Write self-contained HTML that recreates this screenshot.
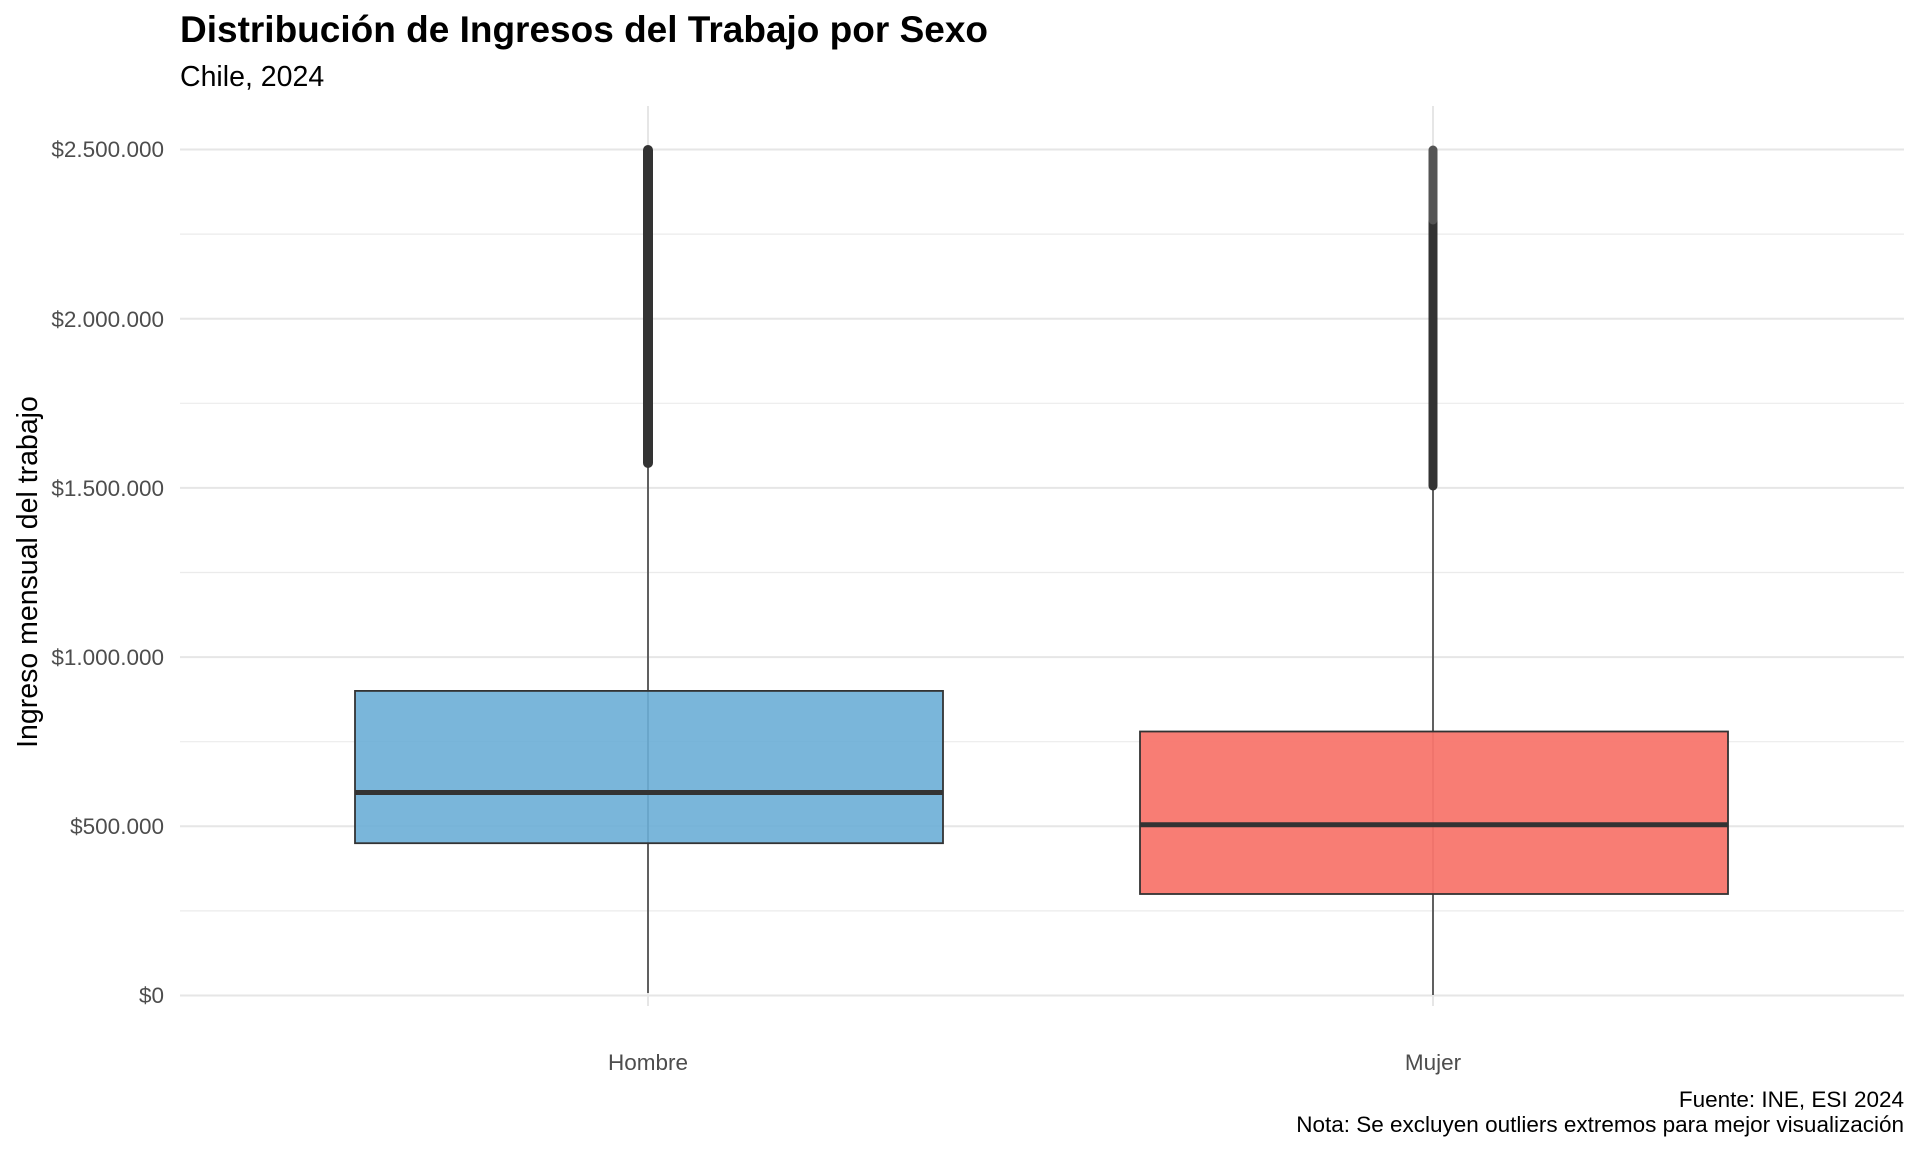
<!DOCTYPE html>
<html><head><meta charset="utf-8"><style>
body{margin:0;background:#fff}
svg{display:block}
text{font-family:"Liberation Sans",sans-serif}
</style></head><body>
<svg width="1920" height="1152" viewBox="0 0 1920 1152">
<rect width="1920" height="1152" fill="#fff"/>
<text x="180" y="42" font-size="37" font-weight="bold" fill="#000">Distribución de Ingresos del Trabajo por Sexo</text>
<text x="180" y="86" font-size="28.5" fill="#000">Chile, 2024</text>
<g stroke="#ebebeb" stroke-width="1.2">
<line x1="180" x2="1904" y1="910.9" y2="910.9"/>
<line x1="180" x2="1904" y1="741.7" y2="741.7"/>
<line x1="180" x2="1904" y1="572.5" y2="572.5"/>
<line x1="180" x2="1904" y1="403.3" y2="403.3"/>
<line x1="180" x2="1904" y1="234.1" y2="234.1"/>
</g>
<g stroke="#e6e6e6" stroke-width="2">
<line x1="180" x2="1904" y1="995.5" y2="995.5"/>
<line x1="180" x2="1904" y1="826.3" y2="826.3"/>
<line x1="180" x2="1904" y1="657.1" y2="657.1"/>
<line x1="180" x2="1904" y1="487.9" y2="487.9"/>
<line x1="180" x2="1904" y1="318.7" y2="318.7"/>
<line x1="180" x2="1904" y1="149.5" y2="149.5"/>
<line x1="648" x2="648" y1="106" y2="1006"/>
<line x1="1433" x2="1433" y1="106" y2="1006"/>
</g>
<g font-size="22.5" fill="#4d4d4d" text-anchor="end">
<text x="164" y="1003">$0</text>
<text x="164" y="834">$500.000</text>
<text x="164" y="665">$1.000.000</text>
<text x="164" y="496">$1.500.000</text>
<text x="164" y="327">$2.000.000</text>
<text x="164" y="157">$2.500.000</text>
</g>
<g font-size="22.5" fill="#4d4d4d" text-anchor="middle">
<text x="648" y="1070">Hombre</text>
<text x="1433" y="1070">Mujer</text>
</g>
<text transform="translate(37,572) rotate(-90)" font-size="28.5" fill="#000" text-anchor="middle">Ingreso mensual del trabajo</text>
<line x1="648" x2="648" y1="993" y2="464" stroke="#333" stroke-width="1.5"/>
<rect x="355" y="690.9" width="588" height="152.3" fill="#6baed6" fill-opacity="0.9" stroke="#333" stroke-width="1.8"/>
<line x1="355" x2="943" y1="792.5" y2="792.5" stroke="#333" stroke-width="5"/>
<line x1="648" x2="648" y1="150" y2="463" stroke="#333" stroke-width="10" stroke-linecap="round"/>
<line x1="1433" x2="1433" y1="995" y2="487" stroke="#333" stroke-width="1.5"/>
<rect x="1140" y="731.5" width="588" height="162.5" fill="#f8766d" fill-opacity="0.95" stroke="#333" stroke-width="1.8"/>
<line x1="1140" x2="1728" y1="824.7" y2="824.7" stroke="#333" stroke-width="5"/>
<line x1="1433" x2="1433" y1="220" y2="486" stroke="#333" stroke-width="9" stroke-linecap="round"/>
<line x1="1433" x2="1433" y1="150" y2="220" stroke="#555" stroke-width="9" stroke-linecap="round"/>
<text x="1904" y="1107" font-size="22.5" fill="#000" text-anchor="end">Fuente: INE, ESI 2024</text>
<text x="1904" y="1132" font-size="22.5" fill="#000" text-anchor="end">Nota: Se excluyen outliers extremos para mejor visualización</text>
</svg>
</body></html>
